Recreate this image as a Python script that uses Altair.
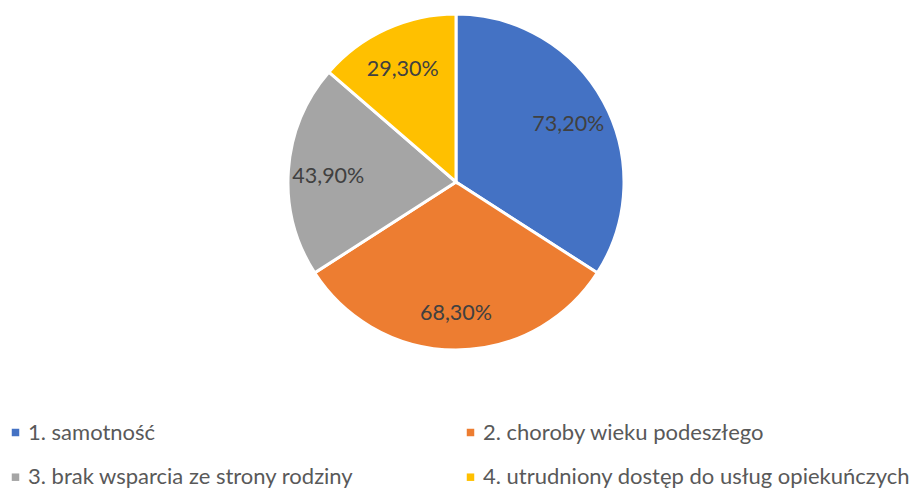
import altair as alt
import pandas as pd

categories = [
    "1. samotność",
    "2. choroby wieku podeszłego",
    "3. brak wsparcia ze strony rodziny",
    "4. utrudniony dostęp do usług opiekuńczych",
]
values = [73.2, 68.3, 43.9, 29.3]
colors = ["#4472C4", "#ED7D31", "#A5A5A5", "#FFC000"]

df = pd.DataFrame({
    "kat": categories,
    "val": values,
    "ord": list(range(len(categories))),
    "lab": [f"{v:.2f}".replace(".", ",") + "%" for v in values],
})

FONT = "Lato"

base = alt.Chart(df).encode(
    theta=alt.Theta("val:Q", stack=True),
    order=alt.Order("ord:Q"),
)

arcs = base.mark_arc(radius=168, stroke="white", strokeWidth=3).encode(
    color=alt.Color(
        "kat:N",
        scale=alt.Scale(domain=categories, range=colors),
        sort=categories,
        legend=alt.Legend(
            title=None,
            orient="none",
            direction="horizontal",
            legendX=-3.5,
            legendY=413.5,
            columns=2,
            columnPadding=105,
            rowPadding=22.7,
            symbolType="square",
            symbolSize=56,
            symbolStrokeWidth=0,
            labelFont=FONT,
            labelFontSize=22,
            labelColor="#595959",
            labelOffset=1.5,
            labelLimit=600,
            padding=0,
        ),
    )
)

texts = base.mark_text(radius=128, dy=4, font=FONT, fontSize=21.5, color="#404040").encode(
    text="lab:N"
)

chart = alt.layer(arcs, texts).properties(
    width=896,
    height=348,
    padding={"left": 0, "top": 0, "right": 6, "bottom": 133},
    autosize=alt.AutoSizeParams(type="none"),
).configure_view(stroke=None)

chart.save("out.html", embed_options={"renderer": "svg", "actions": False})
